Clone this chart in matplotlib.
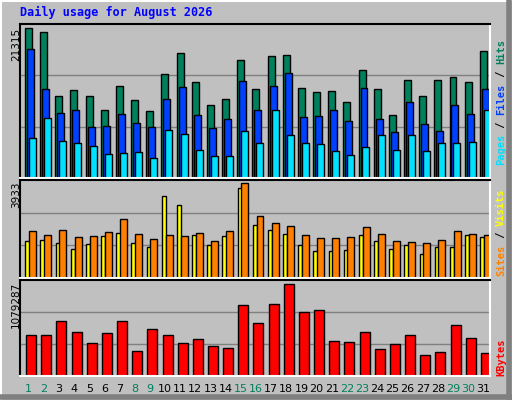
import matplotlib
matplotlib.use("Agg")
import matplotlib.pyplot as plt
import numpy as np

days = list(range(1, 32))
hits = [21315,20735,11621,12490,11621,9741,13068,11043,9596,14804,17842,13647,10464,11188,16830,12634,
        17408,17553,12779,12200,12345,10898,15383,12634,9018,13936,11621,13936,14370,13647,18131]
files = [18420,12634,9307,9741,7282,7426,9162,7860,7282,11188,12923,9018,7137,8439,13791,9741,
         13068,14949,8728,8873,9741,8150,12779,8439,6558,10898,7715,6703,10464,9162,12634]
pages = [5690,8583,5256,4967,4533,3376,3520,3665,2797,6848,6269,3954,3086,3086,6703,4967,
         9741,6124,4967,4822,3810,3231,4388,6124,3954,6124,3810,4967,4967,5111,9741]
visits = [1534,1576,1448,1193,1406,1746,1874,1448,1278,3408,3024,1789,1363,1746,3749,2215,
          2002,1832,1363,1108,1108,1150,1789,1534,1193,1363,980,1278,1278,1789,1704]
sites = [1959,1789,2002,1704,1746,1917,2471,1832,1619,1789,1746,1874,1534,1959,3933,2598,
         2300,2173,1789,1661,1661,1704,2130,1832,1534,1491,1448,1576,1959,1832,1789]
kbytes = [474000,474000,640000,510000,391000,498000,640000,296000,546000,474000,391000,427000,356000,332000,830000,617000,
          842000,1079287,747000,771000,415000,403000,510000,320000,379000,474000,249000,285000,593000,439000,273000]
weekends = [1,2,8,9,15,16,22,23,29,30]

W, H = 512, 400
fig = plt.figure(figsize=(W/100, H/100), dpi=100, facecolor='#C0C0C0')
bg = fig.add_axes([0, 0, 1, 1]); bg.set_xlim(0, W); bg.set_ylim(H, 0); bg.axis('off')
bg.plot([1, W-1], [1, 1], color='white', lw=1.5); bg.plot([1, 1], [1, H-1], color='white', lw=1.5)
bg.plot([W-3, W-3], [2, H-2], color='#808080', lw=4); bg.plot([2, W-2], [H-3, H-3], color='#808080', lw=4)
bg.text(20, 12, 'Daily usage for August 2026', color='#0000FF', fontsize=8.5, fontweight='bold',
        family='DejaVu Sans Mono', va='center')

def mkax(top, bottom):
    ax = fig.add_axes([20/W, 1-bottom/H, 470/W, (bottom-top)/H])
    ax.set_facecolor('#C0C0C0')
    ax.set_xlim(0.5, 31.5)
    ax.set_xticks([]); ax.set_yticks([])
    for s in ['left', 'top']:
        ax.spines[s].set_color('black')
    for s in ['right', 'bottom']:
        ax.spines[s].set_color('white')
    for s in ax.spines.values():
        s.set_linewidth(1.5)
    return ax

ec = dict(edgecolor='black', linewidth=1, align='edge')
d = np.array(days)

ax1 = mkax(24, 178)
top1 = max(hits) * 455/442
ax1.set_ylim(0, top1)
for f in (1/3, 2/3):
    ax1.axhline(top1*f, color='#808080', lw=1, zorder=0)
ax1.bar(d-0.17, hits, 0.46, color='#00805C', **ec)
ax1.bar(d-0.04, files, 0.46, color='#0040FF', **ec)
ax1.bar(d+0.09, pages, 0.46, color='#00E0FF', **ec)
bg.text(16, 28, str(max(hits)), rotation=90, fontsize=7.5, ha='center', va='top')

ax2 = mkax(180, 278)
top2 = max(sites) * 287/277
ax2.set_ylim(0, top2)
for f in (1/3, 2/3):
    ax2.axhline(top2*f, color='#808080', lw=1, zorder=0)
ax2.bar(d-0.15, visits, 0.28, color='#FFFF00', **ec)
ax2.bar(d+0.1, sites, 0.46, color='#FF8000', **ec)
bg.text(16, 182, str(max(sites)), rotation=90, fontsize=7.5, ha='center', va='top')

ax3 = mkax(280, 376)
top3 = max(kbytes) * 284/273
ax3.set_ylim(0, top3)
for f in (1/3, 2/3):
    ax3.axhline(top3*f, color='#808080', lw=1, zorder=0)
ax3.bar(d-0.1, kbytes, 0.66, color='#FF0000', **ec)
bg.text(16, 282, str(max(kbytes)), rotation=90, fontsize=7.5, ha='center', va='top')

# right labels
def rlabel(y_bottom, parts):
    y = y_bottom
    for txt, col in parts:
        t = bg.text(501, y, txt, rotation=90, color=col, fontsize=7.5, family='DejaVu Sans Mono',
                    ha='center', va='bottom', fontweight='bold')
        y -= len(txt) * 6.3
rlabel(165, [('Pages', '#00E0FF'), (' / ', 'black'), ('Files', '#0040FF'), (' / ', 'black'), ('Hits', '#00805C')])
rlabel(276, [('Sites', '#FF8000'), (' / ', 'black'), ('Visits', '#FFFF00')])
rlabel(376, [('KBytes', '#FF0000')])

for i in days:
    x = 20 + (i - 0.5) * 470/31 + 1
    bg.text(x, 389, str(i), ha='center', va='center', fontsize=8,
            color='#00805C' if i in weekends else 'black')

fig.savefig('out.png', dpi=100, facecolor=fig.get_facecolor())
